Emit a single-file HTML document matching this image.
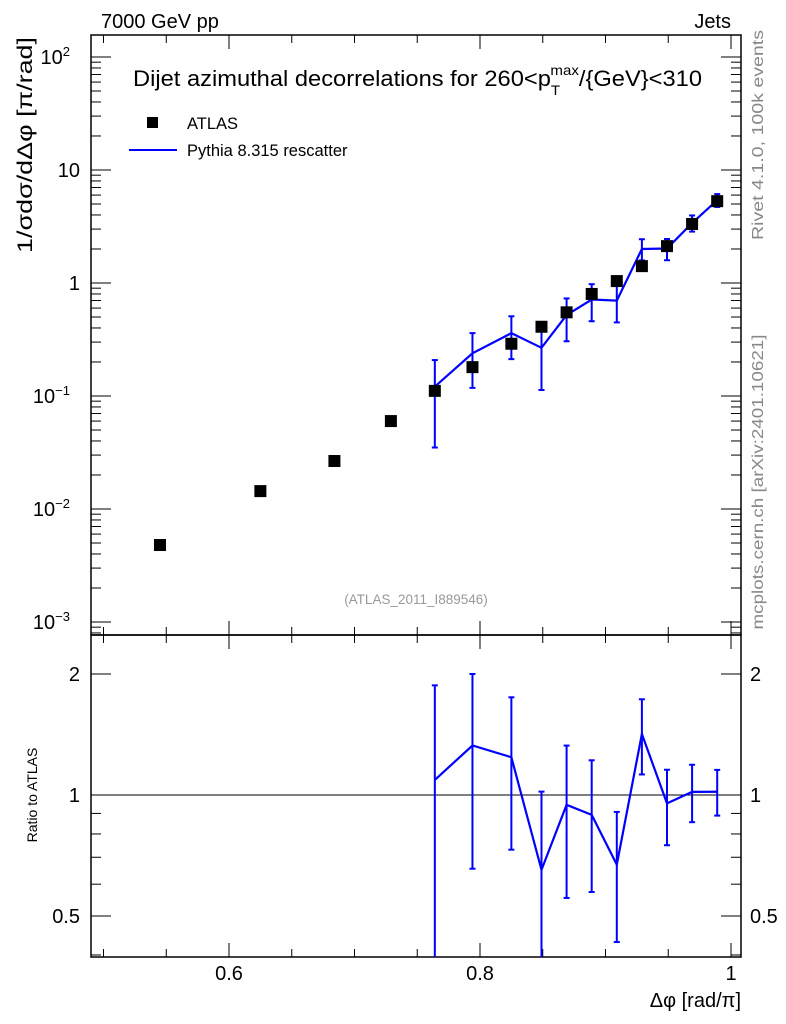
<!DOCTYPE html>
<html><head><meta charset="utf-8"><style>
body{margin:0;background:#fff;}
svg{display:block;font-family:"Liberation Sans",sans-serif;}
</style></head><body>
<svg id="chart" width="786" height="1024" xmlns="http://www.w3.org/2000/svg">
<text x="101" y="28" font-size="20">7000 GeV pp</text>
<text x="731" y="28" font-size="20" text-anchor="end">Jets</text>
<text x="133" y="86" font-size="22" textLength="569" lengthAdjust="spacingAndGlyphs">Dijet azimuthal decorrelations for 260&lt;p<tspan dy="9" font-size="14">T</tspan><tspan dx="-9" dy="-20" font-size="14">max</tspan><tspan dy="11">/{GeV}&lt;310</tspan></text>
<rect x="147" y="117" width="11" height="11" fill="#000"/>
<text x="187" y="129" font-size="16.5">ATLAS</text>
<line x1="129" y1="150" x2="177" y2="150" stroke="#00f" stroke-width="2"/>
<text x="187" y="156" font-size="16.5">Pythia 8.315 rescatter</text>
<text transform="translate(32,145) rotate(-90)" font-size="21" text-anchor="middle" textLength="216" lengthAdjust="spacingAndGlyphs">1/σdσ/dΔφ [π/rad]</text>
<text transform="translate(37,795) rotate(-90)" font-size="14" text-anchor="middle">Ratio to ATLAS</text>
<text transform="translate(763,135) rotate(-90)" font-size="16" fill="#888" text-anchor="middle" textLength="210" lengthAdjust="spacingAndGlyphs">Rivet 4.1.0,  100k events</text>
<text transform="translate(763,482) rotate(-90)" font-size="16" fill="#888" text-anchor="middle" textLength="295" lengthAdjust="spacingAndGlyphs">mcplots.cern.ch [arXiv:2401.10621]</text>
<text x="416" y="604" font-size="13.5" fill="#999" text-anchor="middle">(ATLAS_2011_I889546)</text>
<text x="741" y="1007" font-size="20" text-anchor="end">Δφ [rad/π]</text>
<g id="g"></g>
</svg>
<script>
const xVals=[0.545,0.625,0.684,0.729,0.764,0.794,0.825,0.849,0.869,0.889,0.909,0.929,0.949,0.969,0.989];
const dataVals=[0.0048,0.0144,0.0266,0.060,0.111,0.18,0.29,0.41,0.55,0.80,1.04,1.41,2.12,3.33,5.3];
const mcX=[0.764,0.794,0.825,0.849,0.869,0.889,0.909,0.929,0.949,0.969,0.989];
const mcVals=[0.121,0.239,0.36,0.267,0.52,0.714,0.698,2.0,2.02,3.39,5.4];
const mcUp=[0.208,0.36,0.5075,0.418,0.73,0.976,0.944,2.44,2.45,3.96,6.12];
const mcDown=[0.035,0.118,0.212,0.113,0.305,0.459,0.448,1.586,1.59,2.85,4.71];
const xTicks=[0.6,0.8,1];
const NS="http://www.w3.org/2000/svg";
const g=document.getElementById('g');
const L=91,R=741,T=35,M=635,B=957;
const X=v=>229+(v-0.6)*1255;
const Y=v=>283-113*Math.log10(v);
const RY=v=>795-402*Math.log10(v);
function el(t,a,p){const e=document.createElementNS(NS,t);for(const k in a)e.setAttribute(k,a[k]);(p||g).appendChild(e);return e;}
let f1=el('rect',{x:L,y:T,width:R-L,height:M-T,fill:'none',stroke:'#000','stroke-width':1.5});


let f2=el('rect',{x:L,y:M,width:R-L,height:B-M,fill:'none',stroke:'#000','stroke-width':1.5});


for(let i=0;i<=10;i++){const v=0.5+0.05*i;const px=X(v);if(px<L||px>R)continue;const maj=Math.abs(v*5-Math.round(v*5))<1e-6;const len=maj?14:8;
 [[T,1],[M,-1],[M,1],[B,-1]].forEach(([y0,d])=>{const t=el('line',{x1:px,x2:px,y1:y0,y2:y0+d*len,stroke:'#000','stroke-width':1});
 
 });}
xTicks.forEach(v=>{const t=el('text',{x:X(v),y:980,'font-size':20,'text-anchor':'middle'});t.textContent=String(v);
 
 });
for(let d=-4;d<=2;d++)for(let m=1;m<=9;m++){const v=m*Math.pow(10,d);const py=Y(v);if(py<T||py>M)continue;const len=m==1?20:10;
 [[L,1],[R,-1]].forEach(([x0,s])=>{const t=el('line',{x1:x0,x2:x0+s*len,y1:py,y2:py,stroke:'#000','stroke-width':1});
 
 });}
[[2,'10','2'],[1,'10',''],[0,'1',''],[-1,'10','−1'],[-2,'10','−2'],[-3,'10','−3']].forEach(([d,b,e])=>{const t=el('text',{x:e?70:80,y:Y(Math.pow(10,d))+7,'font-size':20,'text-anchor':'end'});t.textContent=b;
 if(e){const s=el('tspan',{dy:-8,'font-size':13},t);s.textContent=e;}
 
 });
for(let d=-1;d<=0;d++)for(let m=1;m<=9;m++){const v=m*Math.pow(10,d);const py=RY(v);if(py<M||py>B)continue;const maj=(v==0.5||v==1||v==2);const len=maj?20:10;
 [[L,1],[R,-1]].forEach(([x0,s])=>{const t=el('line',{x1:x0,x2:x0+s*len,y1:py,y2:py,stroke:'#000','stroke-width':1});
 
 });}
[[0.5,'0.5'],[1,'1'],[2,'2']].forEach(([v,s])=>{[[80,'end'],[750,'start']].forEach(([x,a])=>{const t=el('text',{x:x,y:RY(v)+7,'font-size':20,'text-anchor':a});t.textContent=s;
 
 });});
let one=el('line',{x1:L,x2:R,y1:RY(1),y2:RY(1),stroke:'#000','stroke-width':1});


let pts=mcX.map((x,i)=>X(x)+','+Y(mcVals[i])).join(' ');
let pl=el('polyline',{points:pts,fill:'none',stroke:'#00f','stroke-width':2.2});


const clamp=(v,a,b)=>Math.max(a,Math.min(b,v));
function ebar(px,y1,y2,top,bot,name){const l=el('line',{x1:px,x2:px,y1:clamp(y1,top,bot),y2:clamp(y2,top,bot),stroke:'#00f','stroke-width':2});
 
 
 [y1,y2].forEach(y=>{if(y>=top&&y<=bot){const c=el('line',{x1:px-3,x2:px+3,y1:y,y2:y,stroke:'#00f','stroke-width':2});
 
 }});}
mcX.forEach((x,i)=>ebar(X(x),Y(mcUp[i]),Y(mcDown[i]),T,M,'pythia-error-bar'));
xVals.forEach((x,i)=>{const r=el('rect',{x:X(x)-6,y:Y(dataVals[i])-6,width:12,height:12,fill:'#000'});
 
 });
const off=xVals.length-mcX.length;
let rpts=mcX.map((x,i)=>X(x)+','+RY(mcVals[i]/dataVals[i+off])).join(' ');
let rl=el('polyline',{points:rpts,fill:'none',stroke:'#00f','stroke-width':2.2});


mcX.forEach((x,i)=>ebar(X(x),RY(mcUp[i]/dataVals[i+off]),RY(mcDown[i]/dataVals[i+off]),M,B,'ratio-error-bar'));
</script>
</body></html>
